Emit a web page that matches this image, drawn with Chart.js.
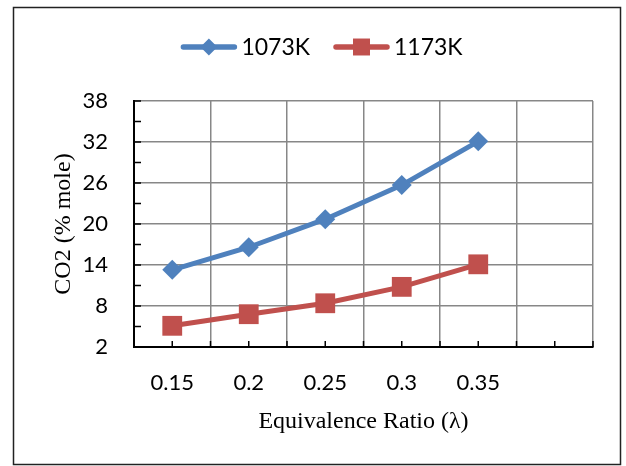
<!DOCTYPE html>
<html><head><meta charset="utf-8">
<script src="https://cdn.jsdelivr.net/npm/chart.js@4.4.1/dist/chart.umd.min.js"></script>
<style>html,body{margin:0;padding:0;background:#fff}#wrap{width:626px;height:466px}</style>
</head><body><div id="wrap"><canvas id="c" width="626" height="466"></canvas></div>
<script>
const categories = ['0.15', '0.2', '0.25', '0.3', '0.35', ''];
const seriesNames = ['1073K', '1173K'];
const values1073 = [13.3, 16.6, 20.7, 25.7, 32.1];
const values1173 = [5.1, 6.8, 8.4, 10.8, 14.1];
const yTickValues = [2, 8, 14, 20, 26, 32, 38];
const xTitle = 'Equivalence Ratio (λ)';
const yTitle = 'CO2 (% mole)';

const BLUE = '#4F81BD', RED = '#C0504D';
const GRID = '#878787';

const framePlugin = {
  id: 'frame',
  beforeDraw(chart) {
    const ctx = chart.ctx;
    ctx.save();
    ctx.fillStyle = '#fff';
    ctx.fillRect(0, 0, chart.width, chart.height);
    ctx.strokeStyle = '#222';
    ctx.lineWidth = 1.5;
    ctx.strokeRect(13.5, 7.5, 607, 457);
    ctx.restore();
  }
};

const innerTicksPlugin = {
  id: 'innerTicks',
  beforeDatasetsDraw(chart) {
    const ctx = chart.ctx, x = chart.scales.x, y = chart.scales.y;
    const a = chart.chartArea;
    ctx.save();
    ctx.strokeStyle = '#000';
    ctx.lineWidth = 1.5;
    ctx.beginPath();
    for (let i = 0; i < yTickValues.length; i++) {
      const py = y.getPixelForValue(yTickValues[i]);
      ctx.moveTo(a.left, py); ctx.lineTo(a.left + 7, py);
      if (i < yTickValues.length - 1) {
        const pm = y.getPixelForValue((yTickValues[i] + yTickValues[i + 1]) / 2);
        ctx.moveTo(a.left, pm); ctx.lineTo(a.left + 7, pm);
      }
    }
    const step = x.getPixelForValue(1) - x.getPixelForValue(0);
    for (let i = 0; i < categories.length; i++) {
      const px = x.getPixelForValue(i);
      ctx.moveTo(px, a.bottom); ctx.lineTo(px, a.bottom - 6);
      const half = px - step / 2;
      ctx.moveTo(half, a.bottom); ctx.lineTo(half, a.bottom - 6);
    }
    ctx.moveTo(a.right, a.bottom); ctx.lineTo(a.right, a.bottom - 6);
    ctx.stroke();
    ctx.restore();
  }
};

const legendPlugin = {
  id: 'customLegend',
  afterDraw(chart) {
    const ctx = chart.ctx;
    ctx.save();
    ctx.font = '23px Lato';
    ctx.textBaseline = 'middle';
    const lineLen = 55, gapText = 5, gapItem = 24, cy = 47;
    const items = chart.data.datasets.map(ds => ({ds, w: lineLen + gapText + ctx.measureText(ds.label).width}));
    const total = items.reduce((s, it) => s + it.w, 0) + gapItem * (items.length - 1);
    let x0 = 322 - total / 2;
    items.forEach((it, idx) => {
      const ds = it.ds;
      ctx.strokeStyle = ds.borderColor;
      ctx.lineWidth = 5.5;
      ctx.lineCap = 'round';
      ctx.beginPath(); ctx.moveTo(x0 + 2, cy); ctx.lineTo(x0 + lineLen - 2, cy); ctx.stroke();
      ctx.fillStyle = ds.backgroundColor;
      ctx.strokeStyle = ds.backgroundColor;
      Chart.helpers.drawPoint(ctx, {pointStyle: ds.pointStyle, radius: idx === 0 ? 8.5 : 12, borderWidth: 0, rotation: 0}, x0 + lineLen / 2, cy);
      ctx.fillStyle = '#000';
      ctx.textAlign = 'left';
      ctx.fillText(ds.label, x0 + lineLen + gapText, cy + 1);
      x0 += it.w + gapItem;
    });
    ctx.restore();
  }
};

new Chart(document.getElementById('c'), {
  type: 'line',
  data: {
    labels: categories,
    datasets: [
      {label: seriesNames[0], data: values1073, borderColor: BLUE, backgroundColor: BLUE,
       borderWidth: 5, pointStyle: 'rectRot', pointRadius: 10, pointHoverRadius: 10, pointBorderWidth: 0, tension: 0},
      {label: seriesNames[1], data: values1173, borderColor: RED, backgroundColor: RED,
       borderWidth: 5, pointStyle: 'rect', pointRadius: 14, pointHoverRadius: 14, pointBorderWidth: 0, tension: 0}
    ]
  },
  options: {
    responsive: false,
    animation: false,
    events: [],
    layout: {padding: {left: 14, top: 101, right: 33, bottom: 20}},
    plugins: {legend: {display: false}, tooltip: {enabled: false}},
    scales: {
      x: {
        type: 'category',
        offset: true,
        grid: {offset: true, color: GRID, lineWidth: 1.5, drawTicks: false},
        border: {color: '#000', width: 2},
        ticks: {color: '#000', font: {family: 'Lato', size: 22}, padding: 23, maxRotation: 0, autoSkip: false},
        title: {display: true, text: xTitle, color: '#000', font: {family: 'Liberation Serif', size: 24}, padding: {top: 0, bottom: 10}},
        afterFit(s) { s.height = 99; }
      },
      y: {
        min: 2, max: 38,
        afterBuildTicks(s) { s.ticks = yTickValues.map(v => ({value: v})); },
        grid: {color: GRID, lineWidth: 1.5, drawTicks: false},
        border: {color: '#000', width: 2},
        ticks: {color: '#000', font: {family: 'Lato', size: 22}, padding: 26},
        title: {display: true, text: yTitle, color: '#000', font: {family: 'Liberation Serif', size: 24}, padding: {top: 35, bottom: 0}},
        afterFit(s) { s.width = 120; }
      }
    }
  },
  plugins: [framePlugin, innerTicksPlugin, legendPlugin]
});
</script>
</body></html>
